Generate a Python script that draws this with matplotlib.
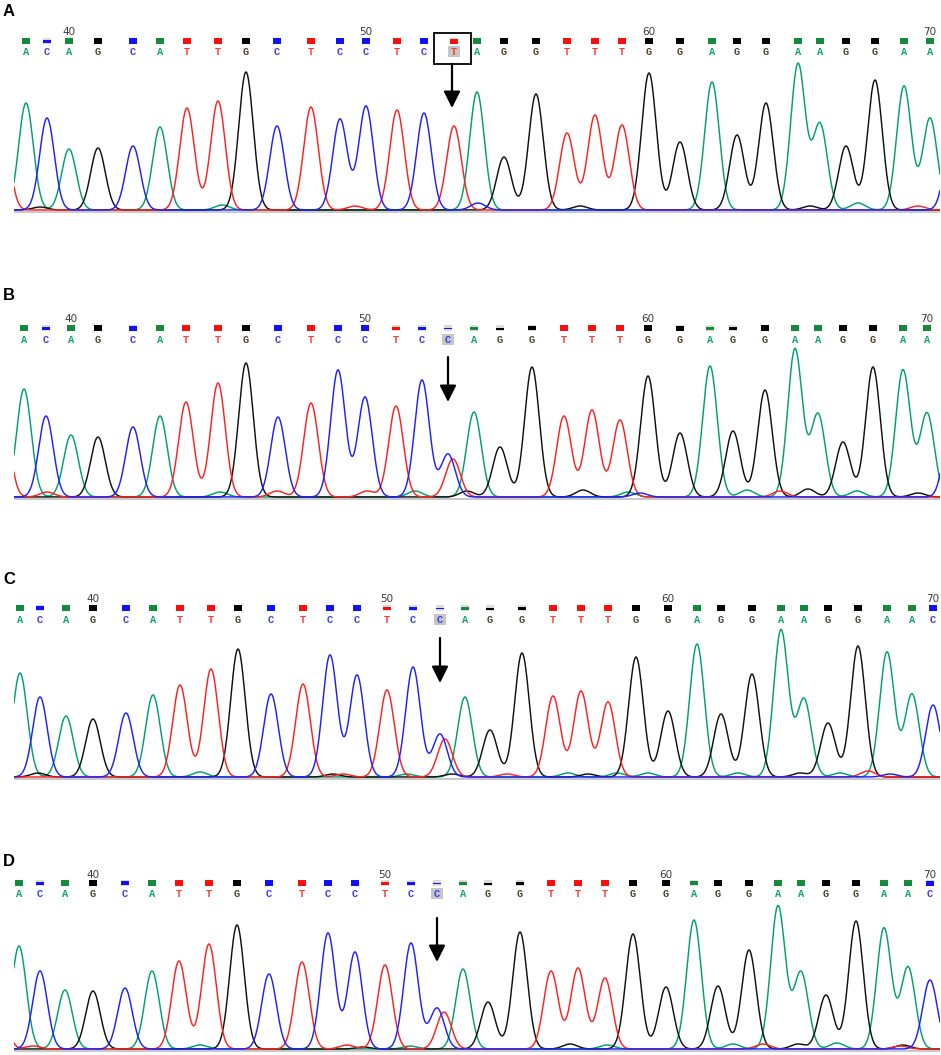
import numpy as np
import matplotlib.pyplot as plt
from matplotlib.patches import Rectangle

W, H = 941, 1055
SIGMA = 7.3

# ---- panel A (reference, T at 53) ----
seq_a = list("ACAGCATTGCTCCTCTAGGTTTGGAGGAAGGAA")
start_a = 38
pos_a = [26, 47, 69, 98, 133, 160, 187, 218, 246, 277, 311, 340, 366, 397, 424, 454,
         477, 504, 536, 567, 595, 622, 649, 680, 712, 737, 766, 798, 820, 846, 875, 904, 930]
ht_a = [107, 92, 61, 62, 64, 83, 102, 109, 138, 84, 103, 91, 104, 100, 97, 84,
        118, 53, 116, 77, 95, 85, 137, 68, 128, 75, 107, 146, 86, 64, 130, 124, 92]
qual_a = [1, .6, 1, 1, 1, 1, 1, 1, 1, 1, 1, 1, 1, 1, 1, .8,
          1, 1, 1, 1, 1, 1, 1, 1, 1, 1, 1, 1, 1, 1, 1, 1, 1]
extra_a = [('T', 2, 90), ('C', 952, 75), ('G', 40, 3), ('A', 222, 5), ('T', 355, 4),
           ('C', 478, 7), ('G', 580, 4), ('G', 810, 4), ('A', 858, 7), ('T', 918, 4)]

# ---- panel B (heterozygous C/T at 53) ----
seq_b = list("ACAGCATTGCTCCTCCAGGTTTGGAGGAAGGAA")
start_b = 38
pos_b = [24, 46, 71, 98, 133, 160, 186, 218, 246, 278, 311, 338, 365, 396, 422, 448,
         474, 500, 532, 564, 592, 620, 648, 680, 710, 733, 765, 795, 818, 843, 873, 903, 927]
ht_b = [108, 81, 62, 60, 70, 81, 95, 114, 134, 80, 94, 127, 100, 91, 117, 43,
        85, 50, 130, 81, 87, 77, 121, 64, 131, 66, 107, 148, 83, 55, 130, 127, 84]
qual_b = [1, .6, 1, 1, .8, 1, 1, 1, 1, 1, 1, 1, 1, .5, .6, .2,
          .4, .3, .7, 1, 1, 1, 1, .8, .5, .4, 1, 1, 1, 1, 1, 1, 1]
extra_b = [('T', 453, 38), ('T', 2, 95), ('C', 952, 90), ('T', 47, 5), ('A', 220, 5),
           ('T', 277, 6), ('T', 367, 6), ('A', 415, 6), ('G', 467, 6), ('G', 583, 7),
           ('A', 628, 5), ('C', 640, 4), ('A', 747, 7), ('T', 780, 6), ('G', 808, 8),
           ('A', 857, 6), ('G', 918, 4)]

# ---- panel C ----
seq_c = list("ACAGCATTGCTCCTCCAGGTTTGGAGGAAGGAAC")
start_c = 37
pos_c = [20, 40, 66, 93, 126, 153, 180, 211, 238, 271, 303, 330, 357, 387, 413, 440, 465,
         490, 522, 553, 581, 608, 636, 668, 697, 721, 752, 781, 804, 828, 858, 887, 912, 933]
ht_c = [104, 80, 61, 58, 64, 82, 92, 108, 128, 83, 93, 122, 102, 87, 110, 43, 80,
        47, 124, 81, 86, 75, 120, 66, 133, 63, 103, 147, 78, 54, 131, 125, 83, 72]
qual_c = [1, .7, 1, 1, 1, 1, 1, 1, 1, 1, 1, 1, 1, .6, .6, .2, .4,
          .3, .6, 1, 1, 1, 1, 1, 1, 1, 1, 1, 1, 1, 1, 1, 1, 1]
extra_c = [('T', 445, 38), ('G', 38, 4), ('A', 200, 5), ('G', 333, 3), ('T', 343, 3),
           ('A', 407, 3), ('G', 452, 3), ('T', 507, 3), ('A', 568, 4), ('G', 588, 3),
           ('A', 617, 4), ('A', 648, 4), ('A', 738, 4), ('G', 800, 4), ('A', 840, 4),
           ('T', 868, 6), ('C', 890, 3)]

# ---- panel D ----
seq_d = list("ACAGCATTGCTCCTCCAGGTTTGGAGGAAGGAAC")
start_d = 37
pos_d = [19, 40, 65, 93, 125, 152, 179, 209, 237, 269, 302, 328, 355, 385, 411, 437, 463,
         488, 520, 551, 578, 605, 633, 666, 694, 718, 749, 778, 801, 826, 856, 884, 908, 930]
ht_d = [103, 78, 59, 58, 61, 78, 88, 105, 124, 75, 87, 116, 97, 84, 106, 41, 80,
        47, 117, 78, 81, 71, 115, 62, 129, 63, 99, 143, 77, 54, 128, 121, 82, 69]
qual_d = [1, .4, 1, 1, .7, 1, 1, 1, 1, 1, 1, 1, 1, .4, .6, .2, .4,
          .3, .5, 1, 1, 1, 1, 1, .7, 1, 1, 1, 1, 1, 1, 1, 1, .8]
extra_d = [('T', 444, 37), ('T', -3, 90), ('T', 33, 3), ('A', 200, 4), ('T', 347, 4),
           ('G', 363, 2), ('A', 410, 3), ('G', 570, 5), ('A', 607, 4), ('A', 733, 5),
           ('T', 763, 5), ('G', 798, 5), ('A', 837, 6), ('G', 903, 4), ('T', 900, 3)]

labels = ['A', 'B', 'C', 'D']
mut_index = 15
tick_numbers = [40, 50, 60, 70]

trace_col = {'A': '#00a070', 'C': '#2020ff', 'G': '#111111', 'T': '#ff2020'}
square_col = {'A': '#138a3c', 'C': '#1010ff', 'G': '#000000', 'T': '#ff0d0d'}
letter_col = {'A': '#10a070', 'C': '#3a3aff', 'G': '#4a4236', 'T': '#ff3838'}

# layout in pixels: label, numbers, squares, letters, baseline, arrow start / tip
layout = [
    dict(lab=11, num=32, sq=41, let=52, base=210, arr=(64, 108)),
    dict(lab=296, num=319, sq=328, let=340, base=497, arr=(357, 402)),
    dict(lab=579, num=599, sq=608, let=620, base=777, arr=(638, 683)),
    dict(lab=862, num=875, sq=883, let=894, base=1049, arr=(918, 962)),
]

panels = [
    (seq_a, start_a, pos_a, ht_a, qual_a, extra_a),
    (seq_b, start_b, pos_b, ht_b, qual_b, extra_b),
    (seq_c, start_c, pos_c, ht_c, qual_c, extra_c),
    (seq_d, start_d, pos_d, ht_d, qual_d, extra_d),
]

fig = plt.figure(figsize=(W / 100, H / 100), dpi=100)
fig.patch.set_facecolor('white')

xs = np.linspace(14, 940, 3000)
x0, x1 = 14, 940

for k, (seq, start, pos, ht, qual, extra) in enumerate(panels):
    L = layout[k]
    # trace axes: 1 signal unit = 1 pixel
    ax = fig.add_axes([x0 / W, 1 - (L['base'] + 3) / H, (x1 - x0) / W, 160 / H])
    ax.set_xlim(x0, x1)
    ax.set_ylim(-3, 157)
    ax.axis('off')
    ax.axhline(-2, color='#c4c4c4', lw=1.3, zorder=1)
    for b in ['A', 'G', 'T', 'C']:
        px = [p for s, p in zip(seq, pos) if s == b] + [e[1] for e in extra if e[0] == b]
        ph = [h for s, h in zip(seq, ht) if s == b] + [e[2] for e in extra if e[0] == b]
        y = np.zeros_like(xs)
        for p, h in zip(px, ph):
            y += h * np.exp(-(xs - p) ** 2 / (2 * SIGMA ** 2))
        ax.plot(xs, y, color=trace_col[b], lw=1.05, zorder=2, solid_joinstyle='round')

# overlay in pixel space for header, labels, arrows
ov = fig.add_axes([0, 0, 1, 1], zorder=5)
ov.set_xlim(0, W)
ov.set_ylim(H, 0)
ov.axis('off')

for k, (seq, start, pos, ht, qual, extra) in enumerate(panels):
    L = layout[k]
    ov.text(3, L['lab'], labels[k], fontsize=12, fontweight='bold',
            family='Liberation Sans', ha='left', va='center')
    for i, (b, p, q) in enumerate(zip(seq, pos, qual)):
        sw, sh = 8, 6
        top = L['sq'] - sh / 2
        if q < 1:
            ov.add_patch(Rectangle((p - sw / 2, top), sw, sh, color='#dcdcdc', lw=0))
        hq = max(sh * q, 1.5)
        ov.add_patch(Rectangle((p - sw / 2, top + sh - hq - (sh * (1 - q)) * 0.35), sw, hq,
                               color=square_col[b], lw=0))
        if i == mut_index:
            ov.add_patch(Rectangle((p - 6, L['let'] - 6), 12, 11, color='#c6c6c6', lw=0))
        ov.text(p, L['let'], b, fontsize=7.5, fontweight='bold', family='Liberation Mono',
                color=letter_col[b], ha='center', va='center')
    for n in tick_numbers:
        i = n - start
        ov.text(pos[i], L['num'], str(n), fontsize=7.5, family='DejaVu Sans', color='#3a3a3a',
                ha='center', va='center')
    xm = pos[mut_index]
    if k == 0:
        ov.add_patch(Rectangle((434, 33), 37, 31, fill=False, ec='black', lw=1.3))
        xm = 452
    ov.annotate('', xy=(xm, L['arr'][1]), xytext=(xm, L['arr'][0]),
                arrowprops=dict(arrowstyle='-|>,head_width=0.5,head_length=1.0',
                                color='black', lw=1.6, shrinkA=0, shrinkB=0))

fig.savefig('out.png', dpi=100)
